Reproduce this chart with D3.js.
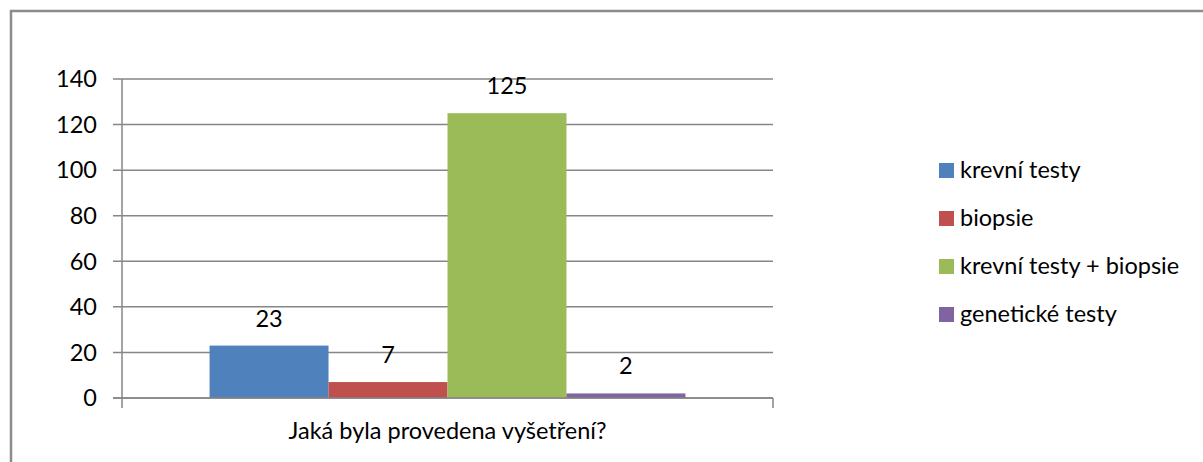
<!DOCTYPE html>
<html>
<head>
<meta charset="utf-8">
<script src="https://cdn.jsdelivr.net/npm/d3@7"></script>
<style>
  body { margin: 0; background: #fff; }
  text { font-family: Lato, "Open Sans", sans-serif; fill: #000; }
</style>
</head>
<body>
<script>
var category = "Jaká byla provedena vyšetření?";
var series = ["krevní testy", "biopsie", "krevní testy + biopsie", "genetické testy"];
var values = [23, 7, 125, 2];
var colors = ["#4f81bd", "#c0504d", "#9bbb59", "#8064a2"];
var yTicks = [0, 20, 40, 60, 80, 100, 120, 140];

var width = 1203, height = 462;
var plot = {left: 122, right: 773, top: 79, bottom: 398};
var fs = 23.5;

var svg = d3.select("body").append("svg")
    .attr("width", width)
    .attr("height", height);

// outer frame (only left and top visible)
svg.append("path")
    .attr("d", "M11,462 V11 H1203")
    .attr("fill", "none")
    .attr("stroke", "#8c8c8c")
    .attr("stroke-width", 2.5);

var y = d3.scaleLinear()
    .domain([0, 140])
    .range([plot.bottom, plot.top]);

var x0 = d3.scaleBand()
    .domain([category])
    .range([plot.left, plot.right])
    .paddingInner(0)
    .paddingOuter(0.184);

var x1 = d3.scaleBand()
    .domain(series)
    .range([0, x0.bandwidth()]);

// gridlines
svg.append("g").selectAll("line")
    .data(yTicks)
    .enter().append("line")
        .attr("x1", plot.left - 9)
        .attr("x2", plot.right)
        .attr("y1", function(d){ return y(d); })
        .attr("y2", function(d){ return y(d); })
        .attr("stroke", "#868686")
        .attr("stroke-width", 1.5);

// y labels
svg.append("g").selectAll("text")
    .data(yTicks)
    .enter().append("text")
        .attr("x", 97)
        .attr("y", function(d){ return y(d); })
        .attr("dy", "0.35em")
        .attr("text-anchor", "end")
        .attr("font-size", fs)
        .text(function(d){ return d; });

// y axis line
svg.append("line")
    .attr("x1", plot.left).attr("x2", plot.left)
    .attr("y1", plot.top).attr("y2", plot.bottom + 10)
    .attr("stroke", "#868686").attr("stroke-width", 1.5);

// x axis right tick
svg.append("line")
    .attr("x1", plot.right).attr("x2", plot.right)
    .attr("y1", plot.bottom).attr("y2", plot.bottom + 10)
    .attr("stroke", "#868686").attr("stroke-width", 1.5);

// bars
var bars = svg.append("g")
    .attr("transform", "translate(" + x0(category) + ",0)");

bars.selectAll("rect")
    .data(values)
    .enter().append("rect")
        .attr("x", function(d, i){ return x1(series[i]); })
        .attr("width", x1.bandwidth())
        .attr("y", function(d){ return y(d); })
        .attr("height", function(d){ return plot.bottom - y(d); })
        .attr("fill", function(d, i){ return colors[i]; });

bars.selectAll("text")
    .data(values)
    .enter().append("text")
        .attr("x", function(d, i){ return x1(series[i]) + x1.bandwidth() / 2; })
        .attr("y", function(d){ return y(d) - 19; })
        .attr("text-anchor", "middle")
        .attr("font-size", fs)
        .text(function(d){ return d; });

// redraw zero line on top of bars
svg.append("line")
    .attr("x1", plot.left - 9).attr("x2", plot.right)
    .attr("y1", y(0)).attr("y2", y(0))
    .attr("stroke", "#868686").attr("stroke-width", 1.5);

// category label
svg.append("text")
    .attr("x", x0(category) + x0.bandwidth() / 2)
    .attr("y", 439)
    .attr("text-anchor", "middle")
    .attr("font-size", fs)
    .text(category);

// legend
var legend = svg.append("g").selectAll("g")
    .data(series)
    .enter().append("g")
        .attr("transform", function(d, i){ return "translate(939," + (170 + i * 48) + ")"; });

legend.append("rect")
    .attr("x", 0).attr("y", -7)
    .attr("width", 15).attr("height", 15)
    .attr("fill", function(d, i){ return colors[i]; });

legend.append("text")
    .attr("x", 21)
    .attr("y", 0)
    .attr("dy", "0.35em")
    .attr("font-size", fs)
    .text(function(d){ return d; });
</script>
</body>
</html>
